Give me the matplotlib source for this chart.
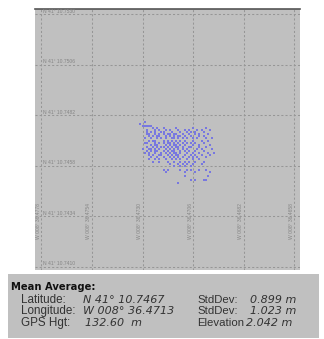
import matplotlib
matplotlib.use("Agg")
import matplotlib.pyplot as plt
from matplotlib.patches import Rectangle

# ---------------- data ----------------
lon_grid = [36.4778, 36.4754, 36.4730, 36.4706, 36.4682, 36.4658]   # W 008° minutes
lat_grid = [10.7530, 10.7506, 10.7482, 10.7458, 10.7434, 10.7410]   # N 41° minutes

fix_lat_rows = [10.7479, 10.7478, 10.7477, 10.7476, 10.7475, 10.7474, 10.7473,
                10.7472, 10.7471, 10.7470, 10.7469, 10.7468, 10.7467, 10.7466,
                10.7465, 10.7464, 10.7463, 10.7462, 10.7461, 10.7460, 10.7459,
                10.7458, 10.7456, 10.7455, 10.7453, 10.7451, 10.7450]
fix_lon_rows = [
    [36.4729],
    [36.4731],
    [36.4730, 36.4729, 36.4728, 36.4727, 36.4726],
    [36.4725, 36.4723, 36.4720, 36.4714, 36.4706, 36.4700],
    [36.4728, 36.4724, 36.4722, 36.4719, 36.4717, 36.4713, 36.4710, 36.4708, 36.4704, 36.4702, 36.4698],
    [36.4728, 36.4726, 36.4724, 36.4721, 36.4720, 36.4716, 36.4712, 36.4709, 36.4707, 36.4705, 36.4701],
    [36.4728, 36.4727, 36.4724, 36.4722, 36.4720, 36.4718, 36.4717, 36.4715, 36.4714, 36.4711, 36.4708, 36.4705, 36.4703, 36.4699],
    [36.4727, 36.4725, 36.4723, 36.4722, 36.4719, 36.4717, 36.4715, 36.4713, 36.4712, 36.4710, 36.4707, 36.4703, 36.4701],
    [36.4729, 36.4726, 36.4723, 36.4721, 36.4719, 36.4716, 36.4715, 36.4713, 36.4711, 36.4709, 36.4706, 36.4704, 36.4700, 36.4697],
    [36.4727, 36.4725, 36.4724, 36.4720, 36.4718, 36.4716, 36.4714, 36.4712, 36.4710, 36.4706, 36.4702, 36.4699],
    [36.4729, 36.4728, 36.4724, 36.4722, 36.4720, 36.4718, 36.4717, 36.4715, 36.4713, 36.4711, 36.4709, 36.4707, 36.4705, 36.4701],
    [36.4726, 36.4724, 36.4723, 36.4719, 36.4717, 36.4715, 36.4714, 36.4712, 36.4710, 36.4706, 36.4703, 36.4698],
    [36.4728, 36.4725, 36.4723, 36.4721, 36.4720, 36.4718, 36.4716, 36.4714, 36.4713, 36.4711, 36.4708, 36.4707, 36.4703, 36.4700],
    [36.4730, 36.4727, 36.4726, 36.4724, 36.4722, 36.4719, 36.4717, 36.4715, 36.4713, 36.4711, 36.4709, 36.4704, 36.4702, 36.4697],
    [36.4728, 36.4726, 36.4724, 36.4723, 36.4720, 36.4718, 36.4716, 36.4715, 36.4712, 36.4710, 36.4708, 36.4705, 36.4701],
    [36.4729, 36.4727, 36.4724, 36.4721, 36.4719, 36.4717, 36.4715, 36.4714, 36.4712, 36.4709, 36.4706, 36.4703, 36.4699, 36.4696],
    [36.4727, 36.4725, 36.4722, 36.4721, 36.4718, 36.4716, 36.4714, 36.4713, 36.4710, 36.4707, 36.4705, 36.4702, 36.4698],
    [36.4726, 36.4723, 36.4720, 36.4717, 36.4715, 36.4713, 36.4711, 36.4708, 36.4706, 36.4704, 36.4700],
    [36.4727, 36.4724, 36.4722, 36.4719, 36.4716, 36.4714, 36.4712, 36.4709, 36.4706, 36.4703],
    [36.4725, 36.4722, 36.4718, 36.4715, 36.4712, 36.4710, 36.4708, 36.4705, 36.4701],
    [36.4717, 36.4713, 36.4711, 36.4709, 36.4706, 36.4702],
    [36.4715, 36.4712, 36.4710, 36.4707],
    [36.4720, 36.4718, 36.4712, 36.4709, 36.4707, 36.4703, 36.4700],
    [36.4719, 36.4710, 36.4705, 36.4698],
    [36.4710, 36.4699],
    [36.4707, 36.4705, 36.4701, 36.4700],
    [36.4713],
]

info_title = "Mean Average:"
info_labels = ["Latitude:", "Longitude:", "GPS Hgt:"]
info_values = ["N 41° 10.7467", "W 008° 36.4713", "132.60  m"]
stat_labels = ["StdDev:", "StdDev:", "Elevation"]
stat_values = ["0.899 m", "1.023 m", "2.042 m"]

# ---------------- figure ----------------
W, H = 324, 339
fig = plt.figure(figsize=(W / 100, H / 100), dpi=100)
fig.patch.set_facecolor("white")

def fx(px):
    return px / W

def fy(py):
    return 1 - py / H

PANEL = "#c0c0c0"
ax = fig.add_axes([fx(35), fy(270), fx(300) - fx(35), fy(9) - fy(270)])
ax.set_facecolor(PANEL)

# pixel -> data calibration of the reference map
lon_px = (36.4778 - 36.4658) / (294.3 - 41.3)
lat_px = (10.7530 - 10.7410) / (266.7 - 14.3)
ax.set_xlim(36.4778 + (41.3 - 35) * lon_px, 36.4658 - (300 - 294.3) * lon_px)
ax.set_ylim(10.7410 - (270 - 266.7) * lat_px, 10.7530 + (14.3 - 9) * lat_px)

for s in ["left", "right", "bottom"]:
    ax.spines[s].set_visible(False)
ax.spines["top"].set_color("#555555")
ax.spines["top"].set_linewidth(1.2)
ax.set_xticks([])
ax.set_yticks([])

grid_kw = dict(color="#969696", lw=0.75, ls=(0, (2.0, 2.0)), zorder=1)
for lo in lon_grid:
    ax.axvline(lo, **grid_kw)
for la in lat_grid:
    ax.axhline(la, **grid_kw)

lab_kw = dict(fontsize=3.6, color="#858585", family="Liberation Sans")
for la in lat_grid:
    ax.annotate(f"N 41° {la:.4f}", xy=(lon_grid[0], la), xytext=(1.0, 2.3),
                textcoords="offset points", ha="left", va="center", **lab_kw)
for lo in lon_grid:
    ax.annotate(f"W 008° {lo:.4f}",
                xy=(lo, 0.186), xycoords=("data", "axes fraction"),
                xytext=(-2.2, 0), textcoords="offset points",
                rotation=90, ha="center", va="center", **lab_kw)

xs, ys = [], []
for la, row in zip(fix_lat_rows, fix_lon_rows):
    for lo in row:
        xs.append(lo)
        ys.append(la)
ax.scatter(xs, ys, marker="s", s=2.2, c="#7878e0", linewidths=0, zorder=3)

# ---------------- info panel ----------------
fig.patches.append(Rectangle((fx(8), fy(338)), fx(319) - fx(8), fy(274) - fy(338),
                             transform=fig.transFigure, facecolor=PANEL,
                             edgecolor="none", zorder=0))

fig.text(fx(11), fy(290), info_title, fontsize=7.2, fontweight="bold",
         family="DejaVu Sans", color="#111111", va="baseline", ha="left")
row_base = [302.7, 314.3, 326.0]
val_x = [83, 83, 85]
stat_val_x = [250, 250, 246]
for i in range(3):
    fig.text(fx(20.7), fy(row_base[i]), info_labels[i], fontsize=8.4,
             family="Liberation Sans", color="#333333", va="baseline", ha="left")
    fig.text(fx(val_x[i]), fy(row_base[i]), info_values[i], fontsize=8.0, style="italic",
             family="DejaVu Sans", color="#333333", va="baseline", ha="left")
    fig.text(fx(197), fy(row_base[i]), stat_labels[i], fontsize=8.2,
             family="Liberation Sans", color="#333333", va="baseline", ha="left")
    fig.text(fx(stat_val_x[i]), fy(row_base[i]), stat_values[i], fontsize=8.0, style="italic",
             family="DejaVu Sans", color="#333333", va="baseline", ha="left")

fig.savefig("out.png", dpi=100, facecolor="white")
